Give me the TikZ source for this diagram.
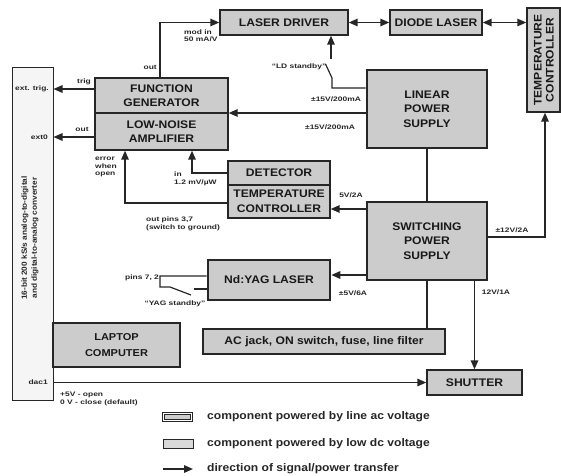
\documentclass[tikz,border=0pt]{standalone}
\usepackage{fontspec}
\setmainfont{Liberation Sans}
\newfontfamily\boxf[FakeStretch=1.1]{Liberation Sans}
\newfontfamily\labf[FakeStretch=1.3]{Liberation Sans}
\usetikzlibrary{arrows.meta}
\tikzset{
  box/.style={draw=black!85, fill=black!20, inner sep=1pt, align=center,
    font=\boxf\bfseries\fontsize{11}{14.5}\selectfont, text=black!90},
  acbox/.style={box, line width=2.6pt},
  dcbox/.style={box, line width=1.4pt},
  lab/.style={font=\labf\bfseries\fontsize{6.5}{7.5}\selectfont, inner sep=0pt, text=black!85},
  legtext/.style={font=\boxf\bfseries\fontsize{11}{13}\selectfont, inner sep=0pt, text=black!85, anchor=west},
  wire/.style={draw=black!85, line width=1.5pt},
  arr/.style={wire, -{Triangle[length=9pt,width=7.5pt]}},
  darr/.style={wire, {Triangle[length=9pt,width=7.5pt]}-{Triangle[length=9pt,width=7.5pt]}},
  thinwire/.style={draw=black!85, line width=1.2pt}
}
\begin{document}
\begin{tikzpicture}[x=1pt,y=-1pt]
\useasboundingbox (0,0) rectangle (561,475);

% ---- boxes ----
\node[dcbox, fill=black!4, line width=1pt, minimum width=41pt, minimum height=333pt] (ADC) at (32.5,233.5) {};
\node[rotate=90, align=center, inner sep=0pt, text=black!85, font=\boxf\bfseries\fontsize{7.5}{10}\selectfont] (ADCt) at (30,238)
  {16-bit 200 kS/s analog-to-digital\\and digital-to-analog converter};

\node[dcbox, minimum width=133pt, minimum height=35pt] (FG) at (161.5,95.5) {FUNCTION\\GENERATOR};
\node[dcbox, minimum width=133pt, minimum height=37pt] (LNA) at (161.5,131.5) {LOW-NOISE\\AMPLIFIER};
\node[dcbox, minimum width=128pt, minimum height=25pt] (LD) at (284,22.5) {LASER DRIVER};
\node[dcbox, minimum width=92pt, minimum height=25pt] (DL) at (436,22.5) {DIODE LASER};
\node[dcbox, minimum width=33pt, minimum height=104pt] (TCR) at (543.5,60) {};
\node[rotate=90, align=center, inner sep=0pt, text=black!90, font=\boxf\bfseries\fontsize{11}{12}\selectfont] (TCRt) at (544,60)
  {TEMPERATURE\\CONTROLLER};
\node[acbox, minimum width=120pt, minimum height=78pt] (LPS) at (427,109) {LINEAR\\POWER\\SUPPLY};
\node[acbox, minimum width=120pt, minimum height=78pt] (SPS) at (427,241) {SWITCHING\\POWER\\SUPPLY};
\node[dcbox, minimum width=102pt, minimum height=24pt] (DET) at (279,173) {DETECTOR};
\node[dcbox, minimum width=102pt, minimum height=33pt] (TC) at (279,201.5) {TEMPERATURE\\CONTROLLER};
\node[acbox, minimum width=122pt, minimum height=40pt] (YAG) at (269,280) {Nd:YAG LASER};
\node[acbox, minimum width=242pt, minimum height=25pt] (AC) at (324,341.5) {AC jack, ON switch, fuse, line filter};
\node[dcbox, line width=1.1pt, minimum width=127pt, minimum height=44pt,
      font=\boxf\bfseries\fontsize{10}{16}\selectfont] (LAP) at (116.5,345) {LAPTOP\\COMPUTER};
\node[dcbox, minimum width=95pt, minimum height=25pt] (SH) at (474.5,382.5) {SHUTTER};

% ---- connectors ----
\coordinate (t1) at ([yshift=6.5pt]FG.west);
\draw[arr] (t1) -- (t1 -| ADC.east);
\coordinate (o1) at ([yshift=-5.5pt]LNA.west);
\draw[arr] (o1) -- (o1 -| ADC.east);
\draw[arr] ([xshift=-1.5pt]FG.north) |- (LD.west);
\coordinate (p1) at ([yshift=-4pt]LPS.west);
\draw[arr] (p1) -- (p1 -| FG.east);
% LD standby switch
\coordinate (p2) at ([yshift=21pt]LPS.west);
\coordinate (ls1) at (332,88);
\coordinate (ls2) at (332,78);
\coordinate (ls3) at (325.5,64);
\coordinate (ls4) at (331,59);
\draw[thinwire] (p2) -- (ls1) -- (ls2) -- (ls3);
\draw[arr] (ls4) -- (ls4 |- LD.south);
\draw[darr] (LD.east) -- (DL.west);
\draw[darr] (DL.east) -- (DL.east -| TCR.west);
\draw[wire] (LPS.south) -- (SPS.north);
\coordinate (q1) at ([yshift=32pt]SPS.west);
\draw[arr] (q1) -- (q1 -| TC.east);
\coordinate (q2) at ([yshift=-34pt]SPS.west);
\draw[arr] (q2) -- (q2 -| YAG.east);
\coordinate (q3) at ([yshift=4pt]SPS.east);
\draw[arr] (q3) -| ([xshift=1.5pt]TCR.south);
\draw[wire] (SPS.south) -- (SPS.south |- AC.north);
\draw[arr] (SPS.south -| SH.north) -- (SH.north);
\draw[arr] (DET.west) -| ([xshift=30.5pt]LNA.south);
\draw[arr] ([yshift=-1.5pt]TC.west) -| ([xshift=-36.5pt]LNA.south);
\draw[arr] (SH.west -| ADC.east) -- (SH.west);
% YAG standby switch
\coordinate (y1) at ([yshift=4pt]YAG.west);
\coordinate (y2) at (160,276);
\coordinate (y3) at (160,287);
\coordinate (y4) at (170,287);
\coordinate (y5) at (191,295);
\coordinate (y6) at (194,289);
\draw[thinwire] (y1) -- (y2) -- (y3) -- (y4) -- (y5);
\draw[thinwire] (y6) -- (y6 -| YAG.west);

% ---- labels ----
\node[lab, anchor=east] (lExt) at (49,89) {ext. trig.};
\node[lab, anchor=east] (lExt0) at (48,137) {ext0};
\node[lab, anchor=east] (lDac) at (48,382) {dac1};
\node[lab] (lTrig) at (84,82) {trig};
\node[lab] (lOut1) at (82,129) {out};
\node[lab, anchor=east] (lOut2) at (157,67) {out};
\node[lab, align=left, anchor=west] (lMod) at (184,35.5) {mod in\\50 mA/V};
\node[lab] (lLDs) at (299,67) {“LD standby”};
\node[lab] (lV1) at (336,99) {±15V/200mA};
\node[lab] (lV2) at (330,127) {±15V/200mA};
\node[lab, align=left] (lErr) at (106,167) {error\\when\\open};
\node[lab, align=left, anchor=west] (lIn) at (174,179) {in\\1.2 mV/µW};
\node[lab, align=left, anchor=west] (lPins) at (146,224) {out pins 3,7\\(switch to ground)};
\node[lab] (lV3) at (351,195) {5V/2A};
\node[lab] (lV4) at (512,230) {±12V/2A};
\node[lab] (lV5) at (353,293) {±5V/6A};
\node[lab] (lV6) at (496,292) {12V/1A};
\node[lab] (lPins2) at (142,278) {pins 7, 2};
\node[lab] (lYAGs) at (175,304) {“YAG standby”};
\node[lab, align=left, anchor=west] (lOpen) at (60,399) {+5V - open\\0 V - close (default)};

% ---- legend ----
\node[draw=black!85, line width=1.3pt, double=white, double distance=1.2pt, fill=black!20,
      minimum width=28pt, minimum height=7pt, inner sep=0pt] (leg1) at (177.5,417) {};
\node[draw=black!85, line width=0.9pt, fill=black!15, minimum width=30pt, minimum height=9pt, inner sep=0pt] (leg2) at (178,444) {};
\coordinate (la1) at (163,469);
\coordinate (la2) at (193,469);
\draw[arr] (la1) -- (la2);
\node[legtext] (lt1) at (207,417) {component powered by line ac voltage};
\node[legtext] (lt2) at (207,444) {component powered by low dc voltage};
\node[legtext] (lt3) at (207,469) {direction of signal/power transfer};
\end{tikzpicture}
\end{document}
